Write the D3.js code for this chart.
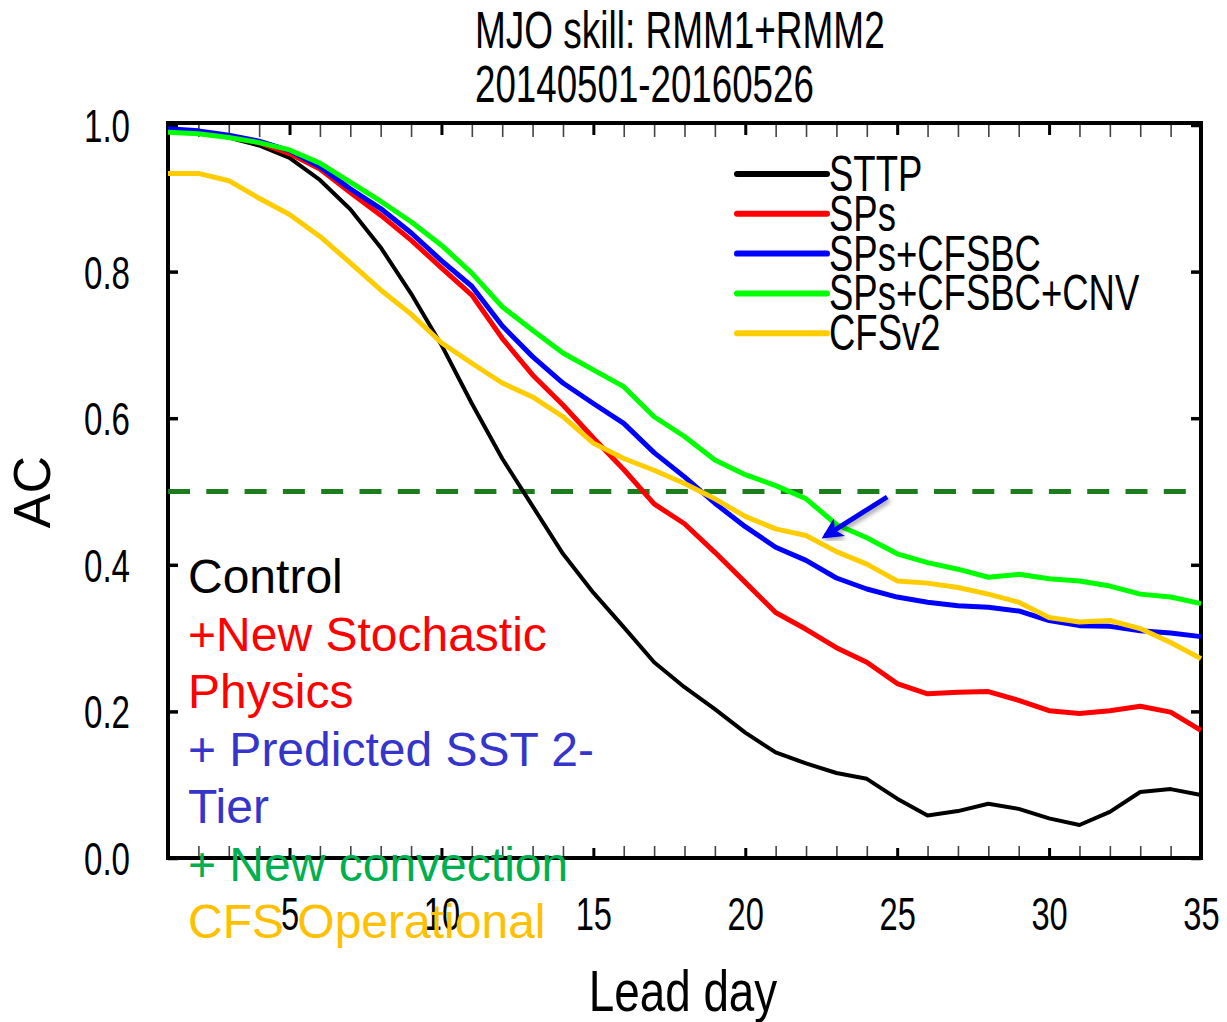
<!DOCTYPE html>
<html>
<head>
<meta charset="utf-8">
<script src="https://cdn.jsdelivr.net/npm/d3@7"></script>
<style>
  body { margin: 0; background: #fff; }
  text { font-family: "Liberation Sans", Arial, sans-serif; }
</style>
</head>
<body>
<div id="chart"></div>
<script>
const leadDays = [1,2,3,4,5,6,7,8,9,10,11,12,13,14,15,16,17,18,19,20,21,22,23,24,25,26,27,28,29,30,31,32,33,34,35];

const sttp = [0.994,0.990,0.983,0.972,0.955,0.925,0.885,0.833,0.770,0.700,0.620,0.545,0.480,0.415,0.362,0.315,0.267,0.233,0.203,0.171,0.144,0.129,0.116,0.108,0.081,0.058,0.064,0.074,0.067,0.054,0.045,0.063,0.090,0.094,0.086];
const sps = [0.993,0.990,0.984,0.976,0.961,0.940,0.908,0.877,0.843,0.805,0.768,0.709,0.659,0.618,0.573,0.530,0.483,0.456,0.417,0.376,0.335,0.312,0.287,0.267,0.238,0.224,0.226,0.227,0.215,0.201,0.197,0.201,0.207,0.199,0.174];
const spsCfsbc = [0.995,0.992,0.986,0.978,0.965,0.943,0.913,0.886,0.853,0.815,0.780,0.726,0.684,0.648,0.620,0.593,0.553,0.520,0.484,0.452,0.424,0.406,0.382,0.367,0.356,0.349,0.344,0.342,0.337,0.324,0.317,0.316,0.310,0.307,0.302];
const spsCfsbcCnv = [0.990,0.988,0.983,0.976,0.966,0.948,0.922,0.896,0.868,0.836,0.798,0.752,0.720,0.689,0.666,0.643,0.602,0.575,0.543,0.523,0.508,0.490,0.455,0.437,0.415,0.403,0.394,0.383,0.387,0.381,0.378,0.371,0.360,0.356,0.347];
const cfsv2 = [0.934,0.934,0.924,0.900,0.878,0.848,0.812,0.775,0.742,0.703,0.675,0.648,0.629,0.602,0.566,0.545,0.529,0.511,0.490,0.466,0.449,0.440,0.418,0.401,0.378,0.375,0.369,0.360,0.349,0.328,0.322,0.324,0.313,0.294,0.272];

const seriesNames = ["STTP", "SPs", "SPs+CFSBC", "SPs+CFSBC+CNV", "CFSv2"];
const seriesValues = [sttp, sps, spsCfsbc, spsCfsbcCnv, cfsv2];
const seriesColors = ["#000000", "#ff0000", "#0000ff", "#00ff00", "#ffcc00"];

const yTicks = [0, 0.2, 0.4, 0.6, 0.8, 1.0];
const xLabelTicks = [5, 10, 15, 20, 25, 30, 35];
const threshold = 0.5;

const notes = ["Control", "+New Stochastic", "Physics", "+ Predicted SST 2-", "Tier", "+ New convection", "CFS Operational"];
const noteColors = ["#000000", "#ff0000", "#ff0000", "#3535cc", "#3535cc", "#00b050", "#ffc000"];

// arrow pointing at the CFSv2 curve, in data units: [day, AC]
const arrowFrom = [24.67, 0.4925];
const arrowTo = [22.63, 0.439];

const params = {
    width: 1227,
    height: 1022,
    left: 168, right: 1201, top: 125, bottom: 858
};

const svg = d3.select("#chart").append("svg")
    .attr("width", params.width)
    .attr("height", params.height);

const x = d3.scaleLinear().domain([1, 35]).range([params.left, params.right]);
const y = d3.scaleLinear().domain([0, 1]).range([params.bottom, params.top]);

// condensed text helper (original plot font is a narrow Helvetica)
function condText(g, str, px, py, size, anchor, sx) {
    return g.append("text")
        .attr("transform", `translate(${px},${py}) scale(${sx},1)`)
        .attr("text-anchor", anchor)
        .style("font-size", size + "px")
        .text(str);
}

// title
condText(svg, "MJO skill: RMM1+RMM2", 475, 48, 51, "start", 0.725);
condText(svg, "20140501-20160526", 475, 102, 51, "start", 0.72);

const minorDays = leadDays.filter(d => d > 1 && d < 35 && d % 5 !== 0);
const majorDays = leadDays.filter(d => d > 1 && d < 35 && d % 5 === 0);

// minor x ticks, top and bottom
svg.append("g")
    .attr("transform", `translate(0,${params.bottom})`)
    .call(d3.axisBottom(x).tickValues(minorDays).tickSize(-12).tickFormat(""))
    .call(g => g.select(".domain").remove())
    .call(g => g.selectAll("line").attr("stroke", "#444").attr("stroke-width", 1.6));
svg.append("g")
    .attr("transform", `translate(0,${params.top})`)
    .call(d3.axisTop(x).tickValues(minorDays).tickSize(-12).tickFormat(""))
    .call(g => g.select(".domain").remove())
    .call(g => g.selectAll("line").attr("stroke", "#444").attr("stroke-width", 1.6));

// major x ticks
svg.append("g")
    .attr("transform", `translate(0,${params.bottom})`)
    .call(d3.axisBottom(x).tickValues(majorDays).tickSize(-10).tickFormat(""))
    .call(g => g.select(".domain").remove())
    .call(g => g.selectAll("line").attr("stroke", "#000").attr("stroke-width", 3));
svg.append("g")
    .attr("transform", `translate(0,${params.top})`)
    .call(d3.axisTop(x).tickValues(majorDays).tickSize(-10).tickFormat(""))
    .call(g => g.select(".domain").remove())
    .call(g => g.selectAll("line").attr("stroke", "#000").attr("stroke-width", 3));

// x labels
svg.append("g")
    .attr("transform", `translate(0,${params.bottom})`)
    .call(d3.axisBottom(x).tickValues(xLabelTicks).tickSize(0).tickFormat(d3.format("d")))
    .call(g => g.select(".domain").remove())
    .call(g => g.selectAll("text")
        .attr("y", null).attr("dy", null)
        .attr("transform", "translate(0,72) scale(0.71,1)")
        .attr("fill", "#000")
        .style("font-size", "46px")
        .style("font-family", "'Liberation Sans', Arial, sans-serif"));

// y axis left with labels
svg.append("g")
    .attr("transform", `translate(${params.left},0)`)
    .call(d3.axisLeft(y).tickValues(yTicks).tickSize(-10).tickFormat(d3.format(".1f")))
    .call(g => g.select(".domain").remove())
    .call(g => g.selectAll("line").attr("stroke", "#000").attr("stroke-width", 3.5))
    .call(g => g.selectAll("text")
        .attr("x", null).attr("dy", null)
        .attr("transform", "translate(-38,16.5) scale(0.72,1)")
        .attr("fill", "#000")
        .style("font-size", "46px")
        .style("font-family", "'Liberation Sans', Arial, sans-serif"));

// y axis right
svg.append("g")
    .attr("transform", `translate(${params.right},0)`)
    .call(d3.axisRight(y).tickValues(yTicks).tickSize(-10).tickFormat(""))
    .call(g => g.select(".domain").remove())
    .call(g => g.selectAll("line").attr("stroke", "#000").attr("stroke-width", 3.5));

// frame
svg.append("rect")
    .attr("x", params.left)
    .attr("y", params.top - 2)
    .attr("width", params.right - params.left)
    .attr("height", params.bottom - params.top + 2)
    .attr("fill", "none")
    .attr("stroke", "#000")
    .attr("stroke-width", 4);

// axis titles
condText(svg, "Lead day", 683, 1011, 58, "middle", 0.79);
svg.append("text")
    .attr("transform", `translate(50,492) rotate(-90)`)
    .attr("text-anchor", "middle")
    .style("font-size", "52px")
    .text("AC");

// 0.5 threshold
svg.append("line")
    .attr("x1", x(1)).attr("x2", x(35))
    .attr("y1", y(threshold)).attr("y2", y(threshold))
    .attr("stroke", "#1b7d1b")
    .attr("stroke-width", 5)
    .attr("stroke-dasharray", "22,16.3");

// curves
const line = d3.line()
    .x((d, i) => x(leadDays[i]))
    .y(d => y(d));

svg.append("g")
    .selectAll("path")
    .data(seriesValues)
    .enter().append("path")
        .attr("d", line)
        .attr("fill", "none")
        .attr("stroke", (d, i) => seriesColors[i])
        .attr("stroke-width", (d, i) => i === 0 ? 4 : 5)
        .attr("stroke-linejoin", "round");

// legend
const legend = svg.selectAll("legendGroup")
    .data(seriesNames)
    .enter().append("g")
        .attr("transform", (d, i) => `translate(737,${174 + i * 39.8})`);

legend.append("line")
    .attr("x1", 0).attr("x2", 90)
    .attr("stroke", (d, i) => seriesColors[i])
    .attr("stroke-width", 6)
    .attr("stroke-linecap", "round");

legend.append("text")
    .attr("transform", "translate(92,17) scale(0.73,1)")
    .style("font-size", "50px")
    .text(d => d);

// arrow
const defs = svg.append("defs");
defs.append("marker")
    .attr("id", "head")
    .attr("viewBox", "0 0 10 10")
    .attr("refX", 8).attr("refY", 5)
    .attr("markerWidth", 4.6).attr("markerHeight", 4.2)
    .attr("markerUnits", "strokeWidth")
    .attr("orient", "auto")
    .append("path")
        .attr("d", "M0,0 L10,5 L0,10 L2.5,5 Z")
        .attr("fill", "#0000ee");
defs.append("filter")
    .attr("id", "shadow")
    .append("feDropShadow")
        .attr("dx", 2).attr("dy", 3).attr("stdDeviation", 2)
        .attr("flood-color", "#000").attr("flood-opacity", 0.35);

svg.append("line")
    .attr("x1", x(arrowFrom[0])).attr("y1", y(arrowFrom[1]))
    .attr("x2", x(arrowTo[0])).attr("y2", y(arrowTo[1]))
    .attr("stroke", "#0000ee")
    .attr("stroke-width", 5)
    .attr("marker-end", "url(#head)")
    .attr("filter", "url(#shadow)");

// annotation text block
svg.append("g")
    .selectAll("text")
    .data(notes)
    .enter().append("text")
        .attr("x", 188)
        .attr("y", (d, i) => 593 + i * 57.5)
        .attr("fill", (d, i) => noteColors[i])
        .style("font-size", "48px")
        .text(d => d);
</script>
</body>
</html>
